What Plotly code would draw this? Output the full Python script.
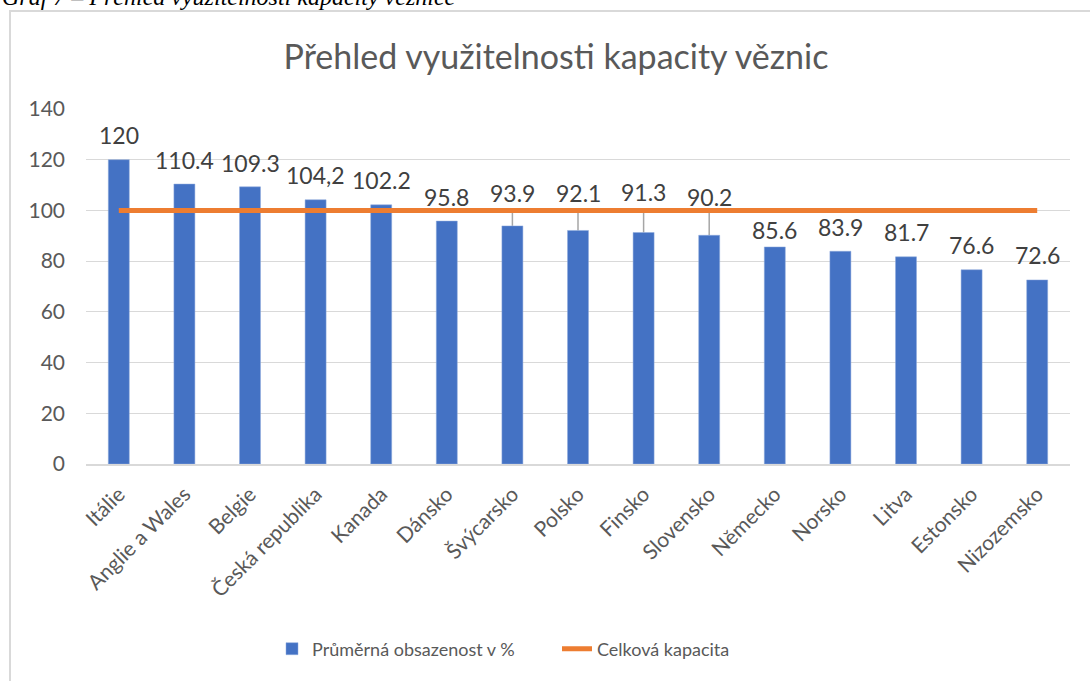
import plotly.graph_objects as go

# data
countries = ["Itálie", "Anglie a Wales", "Belgie", "Česká republika", "Kanada", "Dánsko",
             "Švýcarsko", "Polsko", "Finsko", "Slovensko", "Německo", "Norsko", "Litva",
             "Estonsko", "Nizozemsko"]
occupancy = [120, 110.4, 109.3, 104.2, 102.2, 95.8, 93.9, 92.1, 91.3, 90.2, 85.6, 83.9, 81.7, 76.6, 72.6]
label_text = ["120", "110.4", "109.3", "104,2", "102.2", "95.8", "93.9", "92.1", "91.3", "90.2",
              "85.6", "83.9", "81.7", "76.6", "72.6"]
capacity = [100] * len(countries)

# where Excel had put the data labels (axis units) and which ones got leader lines
label_y = [129.7, 119.9, 118.7, 114.0, 112.0, 105.3, 106.9, 106.9, 107.3, 105.3,
           92.3, 93.5, 91.5, 86.4, 82.4]
leaders = [6, 7, 8, 9]

W, H = 1090, 681
L, R, T, B = 86, 20, 109, 217
pw, ph = W - L - R, H - T - B


def px(x):
    return (x - L) / pw


def py(y):
    return (H - B - y) / ph


GREY = "#595959"
FONT = "Lato"

fig = go.Figure()
fig.add_trace(go.Bar(
    x=countries, y=occupancy, name="Průměrná obsazenost v %",
    marker=dict(color="#4472C4", line=dict(color="#8faadc", width=0.5)),
    width=0.32,
))
fig.add_trace(go.Scatter(
    x=countries, y=capacity, mode="lines", name="Celková kapacita",
    line=dict(color="#ED7D31", width=5),
))

for i in leaders:
    fig.add_shape(type="line", x0=countries[i], x1=countries[i], y0=occupancy[i], y1=capacity[i],
                  xref="x", yref="y", line=dict(color="#a6a6a6", width=1.5), layer="below")

for c, t, ly in zip(countries, label_text, label_y):
    fig.add_annotation(x=c, y=ly, text=t, showarrow=False, xref="x", yref="y",
                       font=dict(family=FONT, size=23, color="#404040"))

# caption cut off at the top of the screenshot
fig.add_annotation(text="<i>Graf 7 – Přehled využitelnosti kapacity věznice</i>", xref="paper", yref="paper",
                   x=px(0), y=py(-3), xanchor="left", yanchor="middle", showarrow=False,
                   font=dict(family="Liberation Serif", size=24, color="black"))

# chart frame
fig.add_shape(type="rect", xref="paper", yref="paper", x0=px(10), x1=px(1100), y0=py(695), y1=py(11),
              line=dict(color="#d9d9d9", width=2), layer="below")

fig.update_layout(
    width=W, height=H,
    margin=dict(l=L, r=R, t=T, b=B, autoexpand=False),
    paper_bgcolor="white", plot_bgcolor="white",
    font=dict(family=FONT, size=19, color=GREY),
    title=dict(text="Přehled využitelnosti kapacity věznic", x=556 / W, y=1 - 57 / H,
               xanchor="center", yanchor="middle", font=dict(family=FONT, size=34, color=GREY)),
    showlegend=True,
    legend=dict(orientation="h", x=px(272), y=py(649), xanchor="left", yanchor="middle",
                font=dict(family=FONT, size=18, color=GREY), entrywidth=240),
    bargap=0.68,
)
fig.update_yaxes(range=[0, 140], dtick=20, showgrid=True, gridcolor="#d9d9d9", gridwidth=1,
                 zeroline=False, showline=False, ticks="", ticklabelstandoff=20, automargin=False,
                 tickfont=dict(family=FONT, size=21, color=GREY))
fig.update_xaxes(showline=True, linecolor="#d9d9d9", linewidth=1.5, ticks="", tickangle=-45,
                 ticklabelstandoff=8, automargin=False, tickfont=dict(family=FONT, size=21, color=GREY))

# drop the browser's default body margin so the figure sits at the page corner
fig.write_html("out.html", config={"displayModeBar": False},
               post_script="document.body.style.margin='0';")
